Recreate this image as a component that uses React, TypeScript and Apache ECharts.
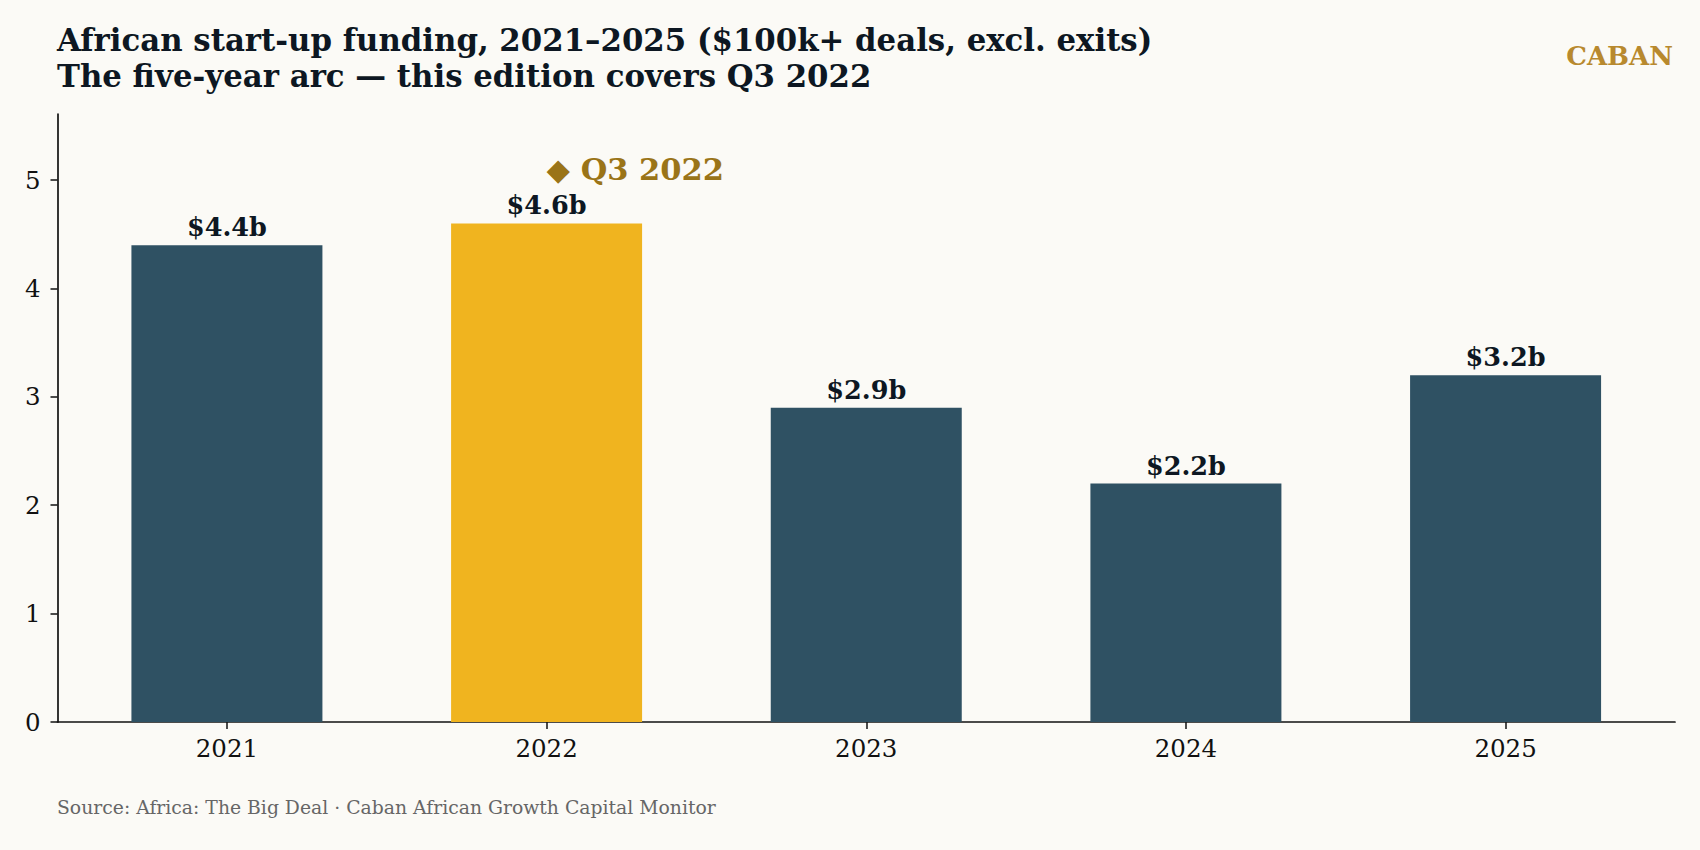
import React, { useEffect, useRef } from "react";
import * as echarts from "echarts";

// African start-up funding by year, $bn ($100k+ deals, excluding exits)
const years = ["2021", "2022", "2023", "2024", "2025"];
const funding = [4.4, 4.6, 2.9, 2.2, 3.2];
const highlightYear = "2022";
const yTicks = [0, 1, 2, 3, 4, 5];
const editionLabel = "◆ Q3 2022";
const editionLabelY = 5.1;

const FONT = "'DejaVu Serif', serif";
const NAVY = "#2F5163";
const GOLD = "#F0B41F";
const INK = "#0D1722";
const BG = "#FBFAF6";
const AXIS = "#111";

export default function App() {
  const ref = useRef<HTMLDivElement>(null);

  useEffect(() => {
    if (!ref.current) return;
    const chart = echarts.init(ref.current, undefined, { renderer: "svg" });
    const highlightIndex = years.indexOf(highlightYear);
    const xPositions = years.map((_, i) => i);

    chart.setOption({
      animation: false,
      backgroundColor: BG,
      textStyle: { fontFamily: FONT },
      grid: { left: 57.5, right: 25, top: 114, bottom: 128, containLabel: false },
      xAxis: {
        type: "value",
        min: -0.53,
        max: 4.53,
        splitLine: { show: false },
        axisLine: { show: true, onZero: false, lineStyle: { color: AXIS, width: 1.7 } },
        axisTick: { show: true, length: 7, lineStyle: { color: AXIS, width: 1.5 }, customValues: xPositions },
        axisLabel: {
          customValues: xPositions,
          formatter: (v: number) => years[Math.round(v)] ?? "",
          color: AXIS,
          fontFamily: FONT,
          fontSize: 24.5,
          margin: 14,
        },
      },
      yAxis: {
        type: "value",
        min: 0,
        max: 5.61,
        splitLine: { show: false },
        axisLine: { show: true, onZero: false, lineStyle: { color: AXIS, width: 1.7 } },
        axisTick: { show: true, length: 7, lineStyle: { color: AXIS, width: 1.5 }, customValues: yTicks },
        axisLabel: {
          customValues: yTicks,
          color: AXIS,
          fontFamily: FONT,
          fontSize: 24.5,
          margin: 17,
        },
      },
      series: [
        {
          type: "bar",
          barWidth: 191,
          data: funding.map((v, i) => ({
            value: [i, v],
            itemStyle: { color: i === highlightIndex ? GOLD : NAVY },
          })),
          label: {
            show: true,
            position: "top",
            distance: 5,
            formatter: (p: any) => `$${p.value[1].toFixed(1)}b`,
            color: INK,
            fontFamily: FONT,
            fontWeight: "bold",
            fontSize: 25.5,
          },
        },
        {
          type: "scatter",
          symbolSize: 0,
          itemStyle: { opacity: 1 },
          data: [[highlightIndex, editionLabelY]],
          label: {
            show: true,
            position: [0, 0],
            align: "left",
            verticalAlign: "middle",
            formatter: editionLabel,
            color: "#9A7418",
            opacity: 1,
            fontFamily: FONT,
            fontWeight: "bold",
            fontSize: 30.5,
          },
        },
      ],
      graphic: [
        {
          type: "text",
          left: 57,
          top: 22,
          style: {
            text: "African start-up funding, 2021–2025 ($100k+ deals, excl. exits)\nThe five-year arc — this edition covers Q3 2022",
            fill: INK,
            font: `bold 30.8px ${FONT}`,
            lineHeight: 36,
          },
        },
        {
          type: "text",
          right: 27,
          top: 43,
          style: {
            text: "CABAN",
            fill: "#B8892E",
            font: `bold 26px ${FONT}`,
          },
        },
        {
          type: "text",
          left: 57,
          top: 798,
          style: {
            text: "Source: Africa: The Big Deal · Caban African Growth Capital Monitor",
            fill: "#666",
            font: `18.8px ${FONT}`,
          },
        },
      ],
    });

    return () => chart.dispose();
  }, []);

  return (
    <div style={{ position: "fixed", inset: 0, background: BG }}>
      <div ref={ref} style={{ width: 1700, height: 850 }} />
    </div>
  );
}
